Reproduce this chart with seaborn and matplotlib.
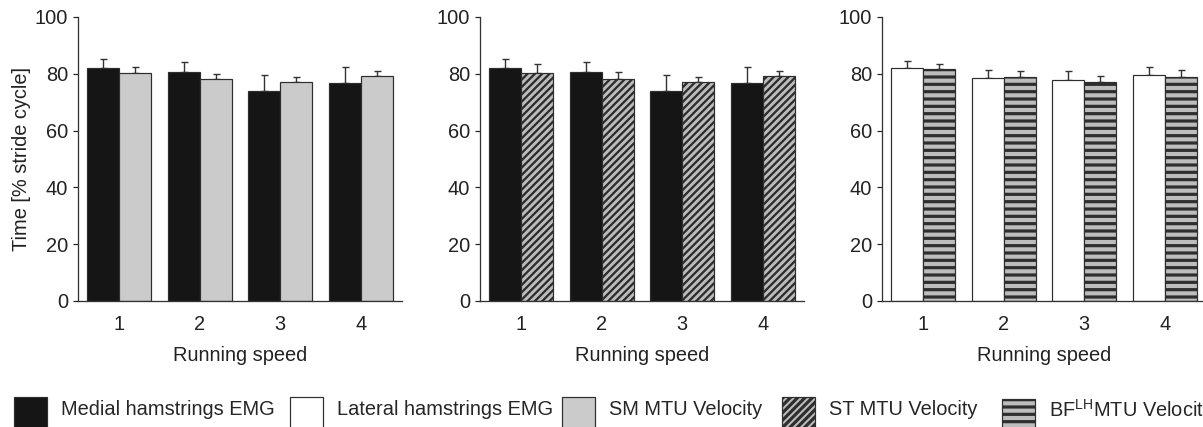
import numpy as np
import pandas as pd
import matplotlib
matplotlib.use("Agg")
import matplotlib.pyplot as plt
import seaborn as sns
from matplotlib.patches import Patch, Rectangle
from matplotlib.legend_handler import HandlerPatch

# ---------------- data ----------------
speeds = ["1", "2", "3", "4"]
medial_emg = [82.2, 80.8, 73.9, 76.8]
medial_sd = [3.1, 3.2, 5.6, 5.6]
lateral_emg = [81.9, 78.6, 77.7, 79.6]
lateral_sd = [2.5, 2.8, 3.3, 2.9]
sm_vel = [80.2, 78.2, 77.2, 79.1]
sm_sd = [2.3, 1.8, 1.8, 1.9]
st_vel = [80.2, 78.2, 77.2, 79.1]
st_sd = [3.3, 2.4, 1.8, 1.9]
bf_vel = [81.6, 78.7, 77.2, 79.0]
bf_sd = [1.9, 2.3, 1.9, 2.4]

lbl_medial = "Medial hamstrings EMG"
lbl_lateral = "Lateral hamstrings EMG"
lbl_sm = "SM MTU Velocity"
lbl_st = "ST MTU Velocity"
lbl_bf = r"BF$^{\mathrm{LH}}$MTU Velocity"

# ---------------- style ----------------
DPI = 88
W, H = 1203, 427
def pt(px):
    return px * 72.0 / DPI

sns.set_theme(style="ticks")
plt.rcParams["font.family"] = ["Liberation Sans", "DejaVu Sans"]
plt.rcParams["mathtext.fontset"] = "custom"
plt.rcParams["mathtext.rm"] = "Liberation Sans"
plt.rcParams["mathtext.it"] = "Liberation Sans:italic"
plt.rcParams["mathtext.bf"] = "Liberation Sans:bold"
plt.rcParams["hatch.linewidth"] = 2.6

EM = 20.0
FS = pt(EM)
EDGE = "#2e2e2e"
BLACK = "#151515"
GRAY = "#cbcbcb"
WHITE = "#ffffff"
HATCH_FACE = "#bdbdbd"
TXT = "#222222"

styles = {
    lbl_medial: dict(face=BLACK, hatch=None, hlw=None),
    lbl_lateral: dict(face=WHITE, hatch=None, hlw=None),
    lbl_sm: dict(face=GRAY, hatch=None, hlw=None),
    lbl_st: dict(face=HATCH_FACE, hatch="////", hlw=1.9),
    lbl_bf: dict(face=HATCH_FACE, hatch="--", hlw=2.6),
}

panels = [
    ((lbl_medial, medial_emg, medial_sd), (lbl_sm, sm_vel, sm_sd)),
    ((lbl_medial, medial_emg, medial_sd), (lbl_st, st_vel, st_sd)),
    ((lbl_lateral, lateral_emg, lateral_sd), (lbl_bf, bf_vel, bf_sd)),
]

fig = plt.figure(figsize=(W / DPI, H / DPI), dpi=DPI)
lefts = [78, 480, 882]
bottom_px, top_px, width_px = 301, 17, 324

for i, (left, pan) in enumerate(zip(lefts, panels)):
    ax = fig.add_axes([left / W, 1 - bottom_px / H, width_px / W, (bottom_px - top_px) / H])
    rows = []
    for name, vals, sds in pan:
        for s, v in zip(speeds, vals):
            rows.append({"speed": s, "value": v, "series": name})
    df = pd.DataFrame(rows)
    order = [p[0] for p in pan]
    sns.barplot(data=df, x="speed", y="value", hue="series", hue_order=order,
                order=speeds, palette=[styles[o]["face"] for o in order],
                edgecolor=EDGE, linewidth=pt(1.2), errorbar=None, width=0.8,
                saturation=1, ax=ax, legend=False, zorder=2)
    for cont, (name, vals, sds) in zip(ax.containers, pan):
        st = styles[name]
        xs, ys = [], []
        for bar in cont:
            bar.set_facecolor(st["face"])
            bar.set_edgecolor(EDGE)
            if st["hatch"]:
                bar.set_hatch(st["hatch"])
                if hasattr(bar, "set_hatch_linewidth"):
                    bar.set_hatch_linewidth(st["hlw"])
            xs.append(bar.get_x() + bar.get_width() / 2)
            ys.append(bar.get_height())
        ax.errorbar(xs, ys, yerr=[np.zeros(len(sds)), sds], fmt="none",
                    ecolor="#333333", elinewidth=pt(1.4), capsize=pt(3.5),
                    capthick=pt(1.4), zorder=1)
    ax.set_ylim(0, 100)
    ax.set_xlim(-0.513, 3.513)
    ax.set_yticks([0, 20, 40, 60, 80, 100])
    ax.tick_params(axis="y", length=pt(5.5), width=pt(1.2), pad=pt(4.5),
                   labelsize=FS, colors=TXT, direction="out")
    ax.tick_params(axis="x", length=0, pad=pt(14), labelsize=FS, colors=TXT)
    for sp in ["left", "bottom"]:
        ax.spines[sp].set_color("#333333")
        ax.spines[sp].set_linewidth(pt(1.3))
    sns.despine(ax=ax)
    ax.set_xlabel("Running speed", fontsize=FS, color=TXT, labelpad=pt(12))
    if i == 0:
        ax.set_ylabel("Time [% stride cycle]", fontsize=FS, color=TXT, labelpad=pt(4))
    else:
        ax.set_ylabel("")
    ax.set_facecolor("none")

# ---------------- legend ----------------
def tall_patch(legend, orig_handle, xdescent, ydescent, width, height, fontsize):
    extra = 14
    return Rectangle((-xdescent, -ydescent - extra), width, height + extra)

leg_labels = [lbl_medial, lbl_lateral, lbl_sm, lbl_st, lbl_bf]
leg_x_px = [14, 290, 562, 782, 1002]
for lb, xpx in zip(leg_labels, leg_x_px):
    st = styles[lb]
    p = Patch(facecolor=st["face"], edgecolor=EDGE, linewidth=pt(1.2),
              hatch=st["hatch"], label=lb)
    if st["hatch"] and hasattr(p, "set_hatch_linewidth"):
        p.set_hatch_linewidth(st["hlw"])
    fig.legend(handles=[p], labels=[lb], loc="upper left",
               bbox_to_anchor=(xpx / W, 1 - 397 / H), ncol=1, frameon=False,
               fontsize=FS, handlelength=33 / EM, handleheight=26 / EM,
               handletextpad=14 / EM, borderpad=0, borderaxespad=0,
               handler_map={Patch: HandlerPatch(patch_func=tall_patch)})

fig.savefig("out.png", dpi=DPI, facecolor="white")
